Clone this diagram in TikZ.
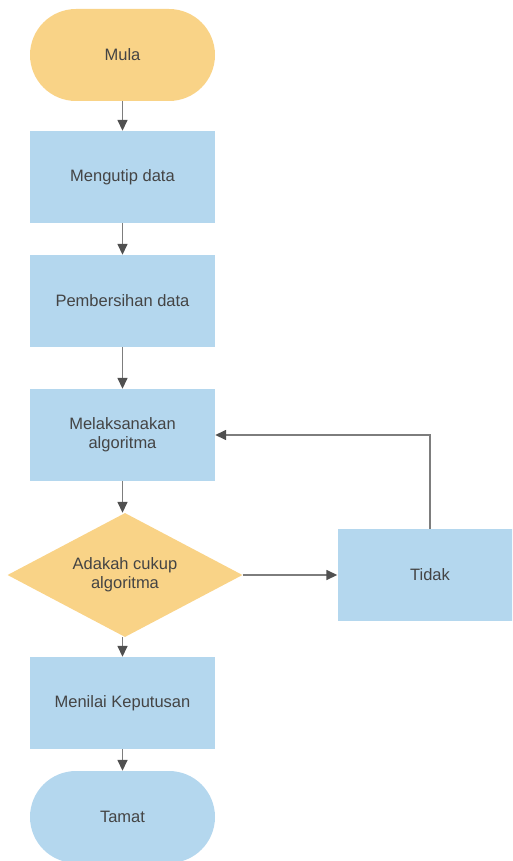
\documentclass[tikz,border=0pt]{standalone}
\usepackage{fontspec}
\setmainfont{Liberation Sans}
\usetikzlibrary{shapes.geometric,arrows.meta}
\definecolor{oren}{RGB}{249,211,135}
\definecolor{biru}{RGB}{180,215,238}
\definecolor{garis}{RGB}{125,125,125}
\definecolor{kepala}{RGB}{80,80,80}
\definecolor{teks}{RGB}{68,68,68}

\begin{document}
\begin{tikzpicture}[x=1pt, y=-1pt,
    >={Triangle[length=11pt, width=10pt, color=kepala]},
    proses/.style={rectangle, fill=biru, minimum width=185pt, minimum height=92pt,
        inner sep=0pt, text=teks, align=center, font=\fontsize{16.5}{19}\selectfont},
    mulatamat/.style={proses, rounded corners=46pt},
    keputusan/.style={diamond, aspect=1.9, fill=oren, minimum width=235pt, minimum height=124pt,
        inner sep=0pt, text=teks, align=center, font=\fontsize{16.5}{19}\selectfont},
    panah/.style={->, draw=garis, line width=1.5pt}]
    \clip (0,0) rectangle (512,861); % the page size
    % the boxes, top to bottom
    \node[mulatamat, fill=oren] (mula) at (122.5,55) {Mula};
    \node[proses] (kutip) at (122.5,177) {Mengutip data};
    \node[proses] (bersih) at (122.5,301) {Pembersihan data};
    \node[proses] (laksana) at (122.5,435) {Melaksanakan\\algoritma};
    \node[keputusan] (cukup) at (125,575) {Adakah cukup\\algoritma};
    \node[proses] (tidak) at (430,575) {Tidak};
    \node[proses] (nilai) at (122.5,703) {Menilai Keputusan};
    \node[mulatamat] (tamat) at (122.5,817) {Tamat};
    % the arrows
    \draw[panah] (mula) -- (kutip);
    \draw[panah] (kutip) -- (bersih);
    \draw[panah] (bersih) -- (laksana);
    \draw[panah] (laksana.south) -- (laksana.south |- cukup.north);
    \draw[panah] (cukup.east) -- (tidak.west);
    \draw[panah] (tidak.north) |- (laksana.east);
    \draw[panah] (nilai.north |- cukup.south) -- (nilai.north);
    \draw[panah] (nilai) -- (tamat);
\end{tikzpicture}
\end{document}
